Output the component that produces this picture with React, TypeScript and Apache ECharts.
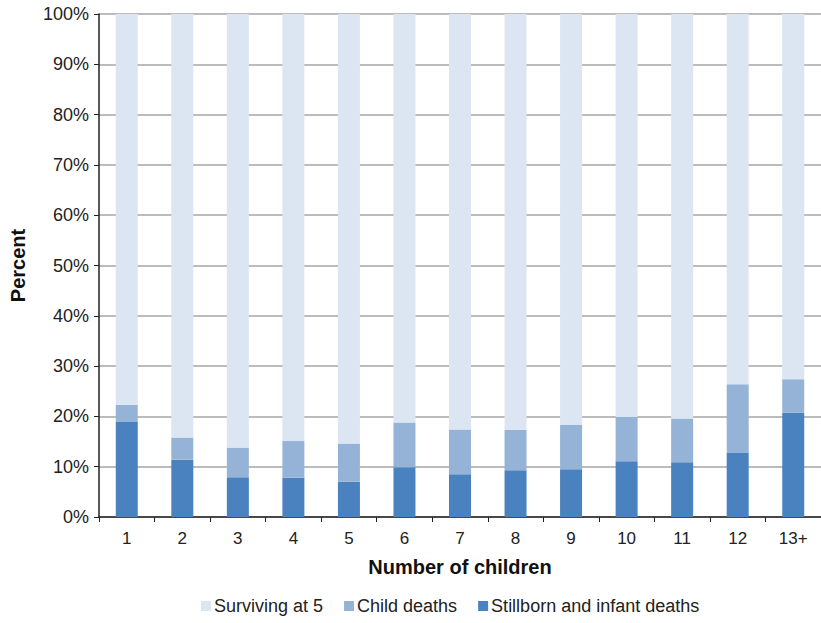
import React, { useEffect, useRef } from "react";
import * as echarts from "echarts";

const categories = ["1", "2", "3", "4", "5", "6", "7", "8", "9", "10", "11", "12", "13+"];
const stillbornInfant = [18.9, 11.4, 7.9, 7.8, 7.0, 9.9, 8.5, 9.3, 9.5, 11.1, 10.9, 12.7, 20.7];
const childDeaths = [3.4, 4.4, 5.9, 7.3, 7.6, 8.9, 8.9, 8.0, 8.8, 8.8, 8.7, 13.7, 6.7];
const surviving = [77.7, 84.2, 86.2, 84.9, 85.4, 81.2, 82.6, 82.7, 81.7, 80.1, 80.4, 73.6, 72.6];
const yTicks = { min: 0, max: 100, interval: 10 };

export default function App() {
  const ref = useRef<HTMLDivElement>(null);
  useEffect(() => {
    if (!ref.current) return;
    const chart = echarts.init(ref.current, undefined, { renderer: "svg" });
    const font = "'Liberation Sans', Arial, sans-serif";
    chart.setOption({
      animation: false,
      textStyle: { fontFamily: font },
      grid: { left: 97, right: -6, top: 14, bottom: 106, containLabel: false },
      legend: {
        bottom: 3,
        left: 196,
        data: ["Surviving at 5", "Child deaths", "Stillborn and infant deaths"],
        icon: "rect",
        itemWidth: 10,
        itemHeight: 10,
        itemGap: 21,
        textStyle: { fontFamily: font, fontSize: 18, color: "#222", padding: [0, 0, 0, -2] },
      },
      xAxis: {
        type: "category",
        data: categories,
        name: "Number of children",
        nameLocation: "middle",
        nameGap: 40,
        nameTextStyle: { fontFamily: font, fontSize: 20, fontWeight: "bold", color: "#111" },
        axisLine: { lineStyle: { color: "#222", width: 1.5 } },
        axisTick: { show: true, alignWithLabel: false, length: 5, lineStyle: { color: "#222" } },
        axisLabel: { fontFamily: font, fontSize: 17, color: "#222", margin: 13 },
      },
      yAxis: {
        type: "value",
        min: yTicks.min,
        max: yTicks.max,
        interval: yTicks.interval,
        name: "Percent",
        nameLocation: "middle",
        nameGap: 71,
        nameRotate: 90,
        nameTextStyle: { fontFamily: font, fontSize: 20, fontWeight: "bold", color: "#111" },
        axisLine: { show: true, lineStyle: { color: "#222", width: 1.5 } },
        axisTick: { show: true, length: 5, lineStyle: { color: "#222" } },
        axisLabel: { formatter: "{value}%", fontFamily: font, fontSize: 18, color: "#222", margin: 10 },
        splitLine: { lineStyle: { color: "#a6a6a6", width: 1.5 } },
      },
      series: [
        {
          name: "Stillborn and infant deaths",
          type: "bar",
          stack: "total",
          data: stillbornInfant,
          barWidth: 22,
          itemStyle: { color: "#4a81bf" },
        },
        {
          name: "Child deaths",
          type: "bar",
          stack: "total",
          data: childDeaths,
          barWidth: 22,
          itemStyle: { color: "#95b3d7" },
        },
        {
          name: "Surviving at 5",
          type: "bar",
          stack: "total",
          data: surviving,
          barWidth: 22,
          itemStyle: { color: "#dce6f2" },
        },
      ],
    });
    return () => chart.dispose();
  }, []);
  return (
    <div
      ref={ref}
      style={{ position: "absolute", left: 0, top: 0, width: 821, height: 623, background: "#fff" }}
    />
  );
}
